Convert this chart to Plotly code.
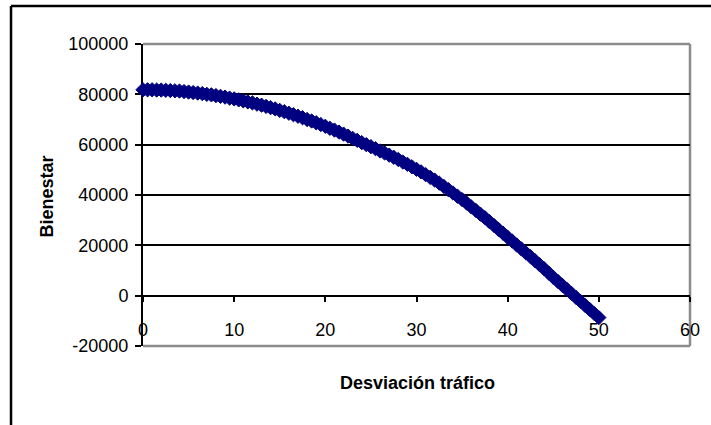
import plotly.graph_objects as go

# Traffic deviation (x) and welfare (y)
desviacion = [i * 0.5 for i in range(101)]
bienestar = [
    81800, 81800, 81800, 81700, 81700, 81600, 81500, 81400, 81300, 81100,
    80900, 80700, 80500, 80300, 80000, 79800, 79500, 79200, 78900, 78500,
    78200, 77800, 77400, 77000, 76600, 76100, 75700, 75200, 74700, 74200,
    73600, 73100, 72500, 71900, 71300, 70700, 70000, 69400, 68700, 68000,
    67300, 66500, 65800, 65000, 64200, 63400, 62500, 61700, 60800, 60000,
    59200, 58400, 57500, 56700, 55850, 55000, 54100, 53100, 52200, 51200,
    50200, 49200, 48100, 47000, 45900, 44700, 43400, 42100, 40800, 39500,
    38200, 36800, 35300, 33900, 32400, 31000, 29400, 27900, 26300, 24800,
    23200, 21700, 20100, 18600, 17000, 15500, 13900, 12300, 10700, 9000,
    7300, 5700, 4100, 2500, 900, -700, -2300, -3900, -5500, -7100,
    -8700,
]

x_ticks = [0, 10, 20, 30, 40, 50, 60]
x_labels = ["0", "10", "20", "30", "40", "50", "60"]
y_ticks = [-20000, 0, 20000, 40000, 60000, 80000, 100000]
y_labels = ["-20000", "0", "20000", "40000", "60000", "80000", "100000"]

FONT = "Liberation Sans, Arial, sans-serif"

fig = go.Figure(
    go.Scatter(
        x=desviacion,
        y=bienestar,
        mode="markers",
        marker=dict(symbol="diamond", size=11, color="#000080",
                    line=dict(color="#000080", width=1)),
        cliponaxis=False,
        showlegend=False,
    )
)

fig.update_layout(
    width=711,
    height=425,
    margin=dict(l=143, r=21, t=44, b=79),
    paper_bgcolor="white",
    plot_bgcolor="white",
    font=dict(family=FONT, size=18, color="black"),
    xaxis=dict(
        range=[0, 60],
        tickvals=x_ticks,
        ticktext=x_labels,
        anchor="free",
        position=1 / 6,
        showline=True,
        linecolor="black",
        linewidth=2,
        ticks="outside",
        ticklen=5,
        tickwidth=2,
        tickcolor="black",
        showgrid=False,
        zeroline=False,
        ticklabelstandoff=13,
        layer="below traces",
    ),
    yaxis=dict(
        range=[-20000, 100000],
        tickvals=y_ticks,
        ticktext=y_labels,
        showline=True,
        linecolor="black",
        linewidth=2,
        ticks="outside",
        ticklen=6,
        tickwidth=2,
        tickcolor="black",
        showgrid=True,
        gridcolor="black",
        gridwidth=2,
        zeroline=False,
        ticklabelstandoff=3,
        layer="below traces",
    ),
    shapes=[
        # grey plot-area frame (top, right, bottom)
        dict(type="line", xref="paper", yref="paper", x0=0, x1=1, y0=1, y1=1,
             line=dict(color="#8c8c8c", width=2.5), layer="below"),
        dict(type="line", xref="paper", yref="paper", x0=1, x1=1, y0=0, y1=1,
             line=dict(color="#8c8c8c", width=2.5), layer="below"),
        dict(type="line", xref="paper", yref="paper", x0=0, x1=1, y0=0, y1=0,
             line=dict(color="#8c8c8c", width=2.5), layer="below"),
        # black chart-area frame
        dict(type="line", xref="paper", yref="paper", x0=-0.2413, x1=1.06,
             y0=1.1258, y1=1.1258, line=dict(color="black", width=2.5)),
        dict(type="line", xref="paper", yref="paper", x0=-0.2413, x1=-0.2413,
             y0=-0.3, y1=1.1258, line=dict(color="black", width=2.5)),
    ],
    annotations=[
        dict(text="<b>Desviación tráfico</b>", xref="paper", yref="paper",
             x=0.5027, y=-0.1225, showarrow=False, xanchor="center",
             yanchor="middle", font=dict(size=18)),
        dict(text="<b>Bienestar</b>", xref="paper", yref="paper",
             x=-0.1764, y=0.4934, showarrow=False, xanchor="center",
             yanchor="middle", textangle=-90, font=dict(size=18)),
    ],
)

fig.write_html("out.html")
